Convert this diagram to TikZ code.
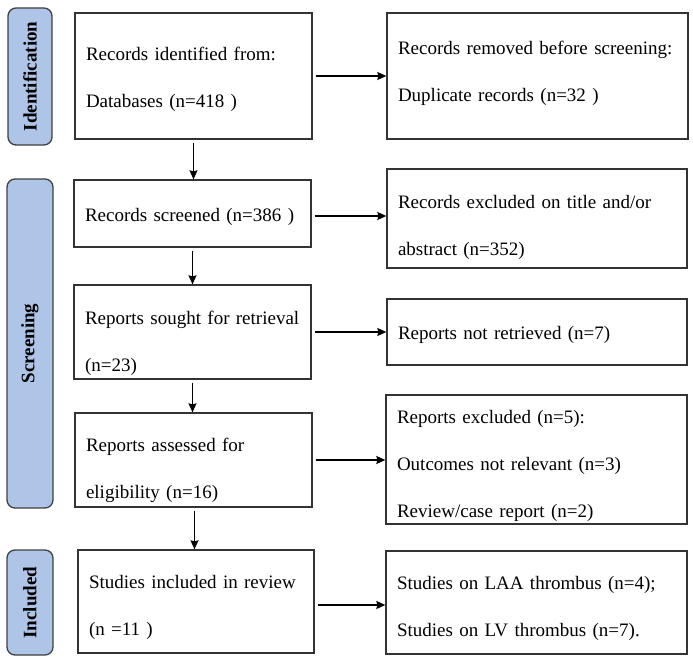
\documentclass[tikz,border=0pt]{standalone}
\usepackage{fontspec}
\setmainfont{Liberation Serif}
\usepackage{tikz}
\usetikzlibrary{positioning, shapes.geometric, arrows, arrows.meta}
\definecolor{phasefill}{RGB}{174,197,232}
\tikzstyle{flow} = [line width=1.3pt,->,>={Stealth[length=9pt,width=8pt,inset=1pt]},shorten <=3pt]

\begin{document}
\begin{tikzpicture}[x=1pt, y=-1pt,
    box/.style={draw=black!80, line width=1.3pt, align=left, inner xsep=11pt, inner ysep=0pt, text height=26pt, font=\fontsize{19}{47}\selectfont},
    phase/.style={draw=black!75, line width=1.3pt, fill=phasefill, rounded corners=8pt, rotate=90, inner sep=0pt, font=\bfseries\fontsize{19}{22}\selectfont}
  ]
  \useasboundingbox (0,0) rectangle (693,661);

  \node[phase, minimum width=137pt, minimum height=44pt] (ident) at (30,76.5) {Identification};
  \node[phase, minimum width=329pt, minimum height=46pt] (screen) at (30,343.5) {Screening};
  \node[phase, minimum width=105pt, minimum height=46pt] (incl) at (30,602.5) {Included};

  \node[box, text width=215pt, minimum height=126pt, text height=21pt] (found) at (193.5,76) {Records identified from:\\Databases (n=418 )};
  \node[box, text width=215pt, minimum height=67pt, text height=21pt] (screened) at (192.5,213.5) {Records screened (n=386 )};
  \node[box, text width=215pt, minimum height=94pt, text height=36pt] (sought) at (192.5,332) {Reports sought for retrieval\\(n=23)};
  \node[box, text width=215pt, minimum height=94pt, text height=35pt] (assessed) at (193.5,460) {Reports assessed for\\eligibility (n=16)};
  \node[box, text width=214pt, minimum height=103pt] (included) at (196,601.5) {Studies included in review\\(n =11 )};

  \node[box, text width=279pt, minimum height=126pt, text height=8pt] (removed) at (537.5,76) {Records removed before screening:\\Duplicate records (n=32 )};
  \node[box, text width=278pt, minimum height=99pt, text height=32pt] (excluded) at (537,218.5) {Records excluded on title and/or\\abstract (n=352)};
  \node[box, text width=278pt, minimum height=66pt, text height=19pt] (notret) at (537,332) {Reports not retrieved (n=7)};
  \node[box, text width=279pt, minimum height=129pt] (repexcl) at (536.5,459.5) {Reports excluded (n=5):\\Outcomes not relevant (n=3)\\Review/case report (n=2)};
  \node[box, text width=279pt, minimum height=103pt] (split) at (536.5,602.5) {Studies on LAA thrombus (n=4);\\Studies on LV thrombus (n=7).};

  \draw[flow] (found.south) -- (found.south |- screened.north);
  \draw[flow] (screened.south) -- (screened.south |- sought.north);
  \draw[flow] (sought.south) -- (sought.south |- assessed.north);
  \draw[flow] ([xshift=1pt]assessed.south) -- ([xshift=1pt]assessed.south |- included.north);

  \draw[flow] (found.east) -- (found.east -| removed.west);
  \draw[flow] ([yshift=-2.5pt]screened.east) -- ([yshift=-2.5pt]screened.east -| excluded.west);
  \draw[flow] (sought.east) -- (sought.east -| notret.west);
  \draw[flow] (assessed.east) -- (assessed.east -| repexcl.west);
  \draw[flow] ([yshift=-3.5pt]included.east) -- ([yshift=-3.5pt]included.east -| split.west);
\end{tikzpicture}
\end{document}
